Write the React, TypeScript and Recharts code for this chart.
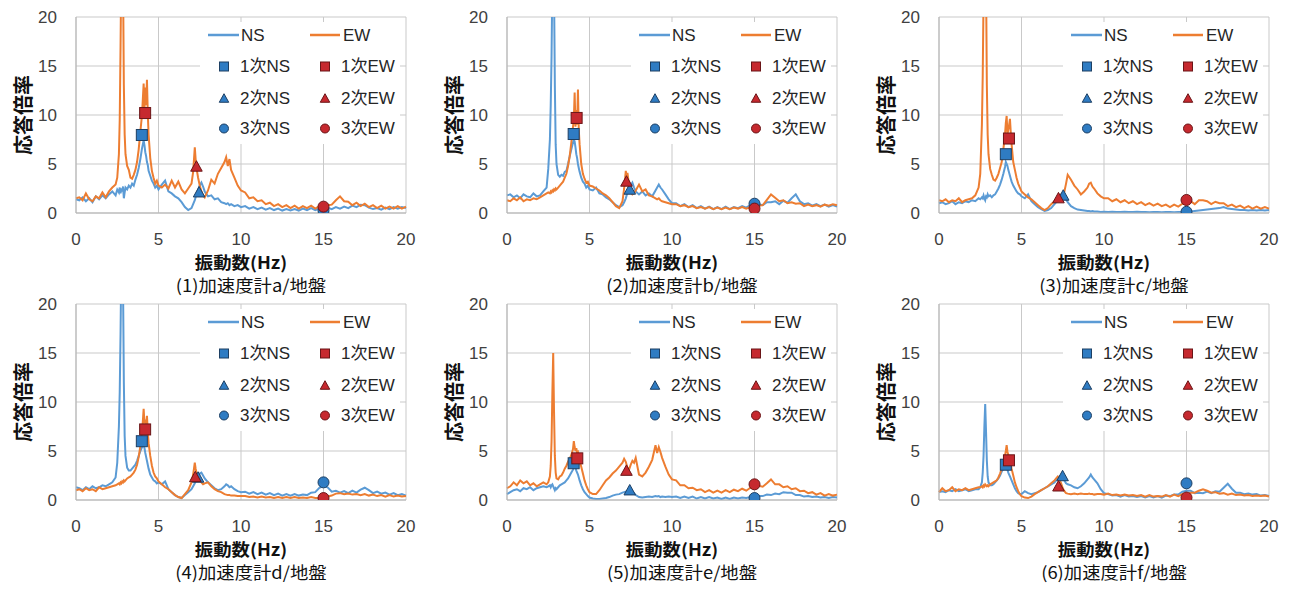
import React from 'react';
import { ComposedChart, Line, Scatter, XAxis, YAxis, CartesianGrid, Legend } from 'recharts';

// ---------- data ----------
const FREQ = [
  0, 0.2, 0.4, 0.6, 0.8, 1, 1.2, 1.4, 1.6, 1.8, 2, 2.2, 2.4,
  2.5, 2.6, 2.65, 2.7, 2.75, 2.8, 2.85, 2.9, 2.95, 3, 3.1, 3.2,
  3.3, 3.4, 3.5, 3.6, 3.7, 3.8, 3.9, 4, 4.05, 4.1, 4.15, 4.2, 4.25, 4.3, 4.35, 4.4, 4.5, 4.6, 4.7, 4.8, 4.9, 5,
  5.2, 5.4, 5.6, 5.8, 6, 6.2, 6.4, 6.6, 6.8, 7, 7.1, 7.2, 7.25, 7.3, 7.4, 7.5, 7.6, 7.7, 7.8, 8, 8.2, 8.4, 8.6, 8.8, 9, 9.1, 9.2, 9.3, 9.4, 9.6, 9.8, 10,
  10.25, 10.5, 10.75, 11, 11.25, 11.5, 11.75, 12, 12.25, 12.5, 12.75, 13, 13.25, 13.5, 13.75, 14, 14.25, 14.5, 14.75, 15,
  15.25, 15.5, 15.75, 16, 16.25, 16.5, 16.75, 17, 17.25, 17.5, 17.75, 18, 18.25, 18.5, 18.75, 19, 19.25, 19.5, 19.75, 20,
];

const NS_A = [
  1.4, 1.3, 1.6, 1.2, 1.5, 1.1, 1.7, 1.4, 1.8, 1.5, 1.9, 2.2, 1.8,
  2.4, 2.1, 2.6, 2.0, 2.5, 2.2, 2.7, 1.5, 2.1, 2.6, 2.4, 2.8,
  2.6, 3.0, 2.8, 3.4, 3.9, 4.6, 5.5, 6.6, 7.0, 7.4, 6.9, 6.2, 5.8, 5.2, 4.9, 4.3, 3.8, 3.3, 3.0, 2.6, 2.8, 2.4,
  2.9, 3.3, 2.2, 2.0, 1.7, 1.5, 1.1, 0.6, 0.3, 0.5, 0.9, 1.3, 1.6, 1.9, 2.4, 2.8, 3.1, 2.7, 2.2, 1.7, 1.8, 1.4, 1.5, 1.1, 1.0, 0.9, 1.0, 0.8, 0.9, 0.7, 0.8, 0.6,
  0.7, 0.45, 0.6, 0.4, 0.55, 0.35, 0.5, 0.3, 0.45, 0.25, 0.4, 0.25, 0.4, 0.25, 0.45, 0.3, 0.5, 0.3, 0.45, 0.35,
  0.55, 0.4, 0.6, 0.45, 0.65, 0.5, 0.75, 0.6, 0.85, 0.8, 0.55, 0.4, 0.5, 0.35, 0.55, 0.4, 0.6, 0.45, 0.6, 0.5,
];
const EW_A = [
  1.5, 1.6, 1.3, 2.0, 1.4, 1.2, 1.7, 1.5, 2.1, 1.6, 2.2, 2.6, 2.9,
  3.6, 6.0, 9.5, 17, 26, 30, 24, 13, 8, 6, 4.8, 4.4,
  3.6, 3.5, 3.9, 4.4, 5.2, 6.5, 8.3, 10.0, 11.6, 13.2, 10.6, 12.8, 11.0, 13.6, 10.2, 8.0, 5.6, 4.3, 3.6, 3.0, 3.3, 2.8,
  2.6, 2.9, 2.5, 3.3, 2.6, 3.2, 2.4, 2.0, 2.5, 3.0, 4.2, 6.7, 5.5, 4.6, 3.6, 2.8, 2.2, 1.8, 1.6, 2.3, 3.4, 3.0, 4.0, 4.6, 5.2, 5.7, 4.8, 5.5, 4.4, 3.6, 2.8, 2.3,
  2.1, 1.5, 1.6, 1.2, 1.3, 0.9, 1.05, 0.7, 0.9, 0.6, 0.8, 0.5, 0.75, 0.45, 0.7, 0.5, 0.75, 0.45, 0.7, 0.5,
  0.8, 0.85, 1.3, 1.7, 1.2, 1.15, 0.8, 1.05, 0.7, 0.95, 0.6, 0.8, 0.5, 0.75, 0.45, 0.65, 0.45, 0.7, 0.45, 0.65,
];

const NS_B = [
  1.8, 1.9, 1.6, 1.8, 1.5, 1.9, 1.7, 1.6, 2.0, 1.7, 1.8, 2.2, 2.6,
  4.5, 7.5, 11, 16, 24, 30, 23, 13, 7, 5, 3.9, 3.7,
  3.9, 3.8, 4.2, 4.3, 5.0, 5.8, 6.5, 7.2, 7.5, 7.3, 6.7, 6.0, 5.6, 5.0, 4.6, 4.2, 3.6, 3.2, 3.0, 2.6, 2.8, 2.4,
  2.3, 2.6, 2.0, 1.9, 1.6, 1.4, 1.1, 0.8, 0.6, 0.8, 1.1, 1.5, 1.8, 2.1, 2.5, 2.8, 3.1, 2.6, 2.2, 1.9, 2.2, 1.8, 2.0, 1.7, 2.3, 2.6, 2.9, 2.6, 2.4, 1.9, 1.4, 1.0,
  1.0, 0.7, 0.9, 0.6, 0.8, 0.5, 0.7, 0.45, 0.65, 0.4, 0.6, 0.4, 0.65, 0.4, 0.6, 0.5, 0.7, 0.55, 0.8, 0.7,
  0.9, 0.8, 1.1, 1.1, 1.2, 0.9, 1.25, 1.05, 1.5, 1.9, 1.2, 0.9, 1.0, 0.75, 0.9, 0.7, 0.85, 0.65, 0.8, 0.65,
];
const EW_B = [
  1.3, 1.2, 1.5, 1.3, 1.6, 1.2, 1.4, 1.3, 1.5, 1.4, 1.6, 1.8, 2.0,
  2.1, 2.0, 2.2, 2.1, 2.3, 2.2, 2.4, 2.3, 2.5, 2.4, 2.6, 2.8,
  3.0, 3.2, 3.6, 4.0, 4.8, 5.8, 7.2, 8.8, 9.5, 12.3, 8.8, 10.5, 9.0, 12.6, 8.5, 7.0, 5.0, 4.0, 3.5, 3.1, 3.2, 2.8,
  2.7, 2.5, 2.3, 2.0, 1.8, 1.5, 1.1, 0.7, 0.5, 1.2, 2.5, 4.3, 3.6, 4.1, 2.8, 2.1, 1.9, 2.0, 2.3, 2.9, 2.2, 2.4, 1.8, 1.7, 1.5, 1.4, 1.5, 1.3, 1.2, 1.1, 1.0, 0.9,
  0.9, 0.7, 0.8, 0.6, 0.7, 0.5, 0.6, 0.45, 0.6, 0.4, 0.55, 0.4, 0.55, 0.4, 0.55, 0.45, 0.6, 0.45, 0.6, 0.5,
  0.75, 0.8, 1.35, 1.9, 1.55, 1.2, 1.3, 1.0, 1.1, 0.95, 1.0, 0.7, 0.85, 0.7, 0.8, 0.65, 0.85, 0.75, 0.9, 0.8,
];

const NS_C = [
  1.0, 1.1, 0.9, 1.0, 1.2, 0.9, 1.1, 1.0, 1.2, 1.1, 1.3, 1.2, 1.5,
  1.4, 1.6, 1.5, 1.8, 1.5, 1.3, 1.7, 1.6, 1.9, 1.7, 1.8, 1.6,
  1.8, 1.9, 2.2, 2.5, 2.9, 3.4, 4.0, 4.7, 5.2, 5.0, 4.8, 4.4, 4.1, 3.8, 3.5, 3.2, 2.8, 2.5, 2.2, 2.0, 1.9, 1.7,
  1.5, 1.9, 1.2, 0.9, 0.6, 0.4, 0.2, 0.3, 0.5, 0.9, 1.1, 1.3, 1.4, 1.5, 1.7, 1.8, 1.7, 1.4, 1.1, 0.7, 0.5, 0.35, 0.3, 0.25, 0.2, 0.2, 0.15, 0.2, 0.15, 0.15, 0.1, 0.12,
  0.1, 0.12, 0.1, 0.1, 0.12, 0.1, 0.1, 0.12, 0.1, 0.1, 0.08, 0.1, 0.1, 0.08, 0.1, 0.1, 0.08, 0.1, 0.1, 0.12,
  0.15, 0.2, 0.25, 0.3, 0.35, 0.4, 0.45, 0.5, 0.6, 0.45, 0.4, 0.35, 0.3, 0.3, 0.25, 0.3, 0.25, 0.3, 0.25, 0.3,
];
const EW_C = [
  1.3, 1.2, 1.4, 1.1, 1.3, 1.2, 1.5, 1.1, 1.3, 1.4, 1.5, 1.8, 2.6,
  4.0, 9.0, 14, 22, 30, 32, 24, 13, 8, 6, 4.5, 3.9,
  3.4, 3.3, 3.6, 4.0, 4.6, 5.2, 6.5, 8.0, 9.2, 9.9, 8.0, 8.5, 9.0, 9.6, 8.2, 7.0, 5.2, 4.4, 3.6, 3.0, 2.6, 2.2,
  1.9, 1.6, 1.4, 1.1, 0.8, 0.5, 0.3, 0.5, 0.9, 1.2, 1.4, 1.6, 1.7, 1.8, 1.9, 1.8, 2.2, 3.0, 3.9, 3.4, 2.8, 2.4, 1.9, 2.2, 2.6, 3.0, 3.1, 2.7, 2.5, 2.0, 1.7, 1.5,
  1.5, 1.2, 1.4, 1.1, 1.3, 1.0, 1.2, 0.9, 1.1, 0.8, 1.0, 0.75, 0.95, 0.7, 0.85, 0.6, 0.85, 0.65, 0.95, 0.9,
  1.2, 0.9, 1.3, 1.3, 1.2, 0.9, 1.15, 1.0, 1.0, 0.7, 0.85, 0.6, 0.75, 0.5, 0.7, 0.45, 0.65, 0.45, 0.6, 0.45,
];

const NS_D = [
  1.3, 1.2, 1.0, 1.3, 1.1, 1.4, 1.2, 1.3, 1.5, 1.4, 1.6, 1.8, 2.3,
  3.8, 7.5, 11, 17, 25, 30, 22, 12, 6.5, 4.5, 3.3, 3.0,
  3.0, 3.2, 3.4, 3.6, 4.0, 4.5, 5.0, 5.4, 5.7, 5.6, 5.3, 4.8, 4.4, 4.0, 3.6, 3.2, 2.6, 2.3, 2.0, 1.9, 1.7, 1.8,
  1.6, 1.9, 1.1, 0.8, 0.5, 0.3, 0.2, 0.5, 0.8, 1.1, 1.4, 1.7, 1.9, 2.1, 2.4, 2.7, 2.8, 2.5, 2.2, 1.8, 1.5, 1.2, 1.0, 1.1, 1.4, 1.6, 1.5, 1.3, 1.4, 1.1, 0.9, 0.8,
  0.85, 0.65, 0.8, 0.6, 0.75, 0.55, 0.7, 0.5, 0.65, 0.45, 0.6, 0.45, 0.6, 0.45, 0.55, 0.5, 0.75, 0.8, 1.25, 1.45,
  1.3, 0.85, 0.95, 0.75, 0.9, 0.7, 0.95, 0.75, 1.05, 1.25, 1.0, 0.7, 0.85, 0.65, 0.75, 0.55, 0.7, 0.5, 0.6, 0.45,
];
const EW_D = [
  1.0, 1.1, 0.9, 1.2, 1.0, 1.1, 0.9, 1.3, 1.1, 1.2, 1.3, 1.4, 1.5,
  1.6, 1.7, 1.6, 1.8, 1.7, 1.9, 1.8, 2.0, 1.9, 2.0, 2.2, 2.3,
  2.4, 2.6, 2.8, 3.1, 3.6, 4.4, 5.5, 7.0, 8.0, 9.3, 7.8, 8.2, 7.5, 8.6, 7.0, 5.8, 4.5, 3.5, 2.8, 2.4, 2.2, 1.9,
  1.6, 1.3, 1.1, 0.8, 0.5, 0.3, 0.2, 0.6, 1.0, 1.8, 2.6, 3.8, 3.2, 2.8, 2.4, 2.1, 1.8, 1.6, 1.7, 1.8, 1.4, 1.1, 0.9, 0.8, 0.6, 0.55, 0.5, 0.5, 0.45, 0.45, 0.4, 0.4,
  0.4, 0.3, 0.35, 0.25, 0.35, 0.25, 0.3, 0.2, 0.3, 0.2, 0.3, 0.2, 0.3, 0.2, 0.25, 0.2, 0.3, 0.2, 0.2, 0.15,
  0.35, 0.45, 0.65, 0.7, 0.6, 0.65, 0.55, 0.6, 0.5, 0.6, 0.45, 0.55, 0.4, 0.5, 0.35, 0.5, 0.35, 0.45, 0.35, 0.4,
];

const NS_E = [
  0.6, 0.8, 1.0, 1.1, 0.9, 1.2, 1.1, 1.3, 1.0, 1.2, 1.3, 1.4, 1.3,
  1.4, 1.5, 1.3, 1.5, 1.6, 1.4, 1.2, 1.0, 1.2, 1.1, 1.3, 1.5,
  1.6, 1.7, 1.8, 2.0, 2.2, 2.5, 2.8, 3.1, 3.4, 3.5, 3.3, 3.0, 2.8, 2.6, 2.3, 2.0, 1.5, 1.1, 0.8, 0.6, 0.4, 0.25,
  0.15, 0.1, 0.1, 0.15, 0.2, 0.3, 0.45, 0.55, 0.6, 0.75, 0.8, 0.85, 0.8, 0.9, 0.95, 1.0, 0.85, 0.7, 0.5, 0.3, 0.25, 0.3, 0.35, 0.3, 0.4, 0.35, 0.4, 0.3, 0.35, 0.3, 0.35, 0.3,
  0.35, 0.2, 0.35, 0.2, 0.35, 0.15, 0.3, 0.15, 0.3, 0.15, 0.25, 0.1, 0.25, 0.1, 0.25, 0.15, 0.25, 0.2, 0.3, 0.25,
  0.4, 0.4, 0.55, 0.5, 0.65, 0.6, 0.8, 0.75, 0.75, 0.5, 0.5, 0.35, 0.4, 0.3, 0.35, 0.25, 0.3, 0.2, 0.3, 0.25,
];
const EW_E = [
  1.2, 1.4, 1.8, 1.5, 2.0, 1.7, 1.9, 1.5, 1.7, 1.4, 1.6, 1.8, 1.6,
  1.8, 2.4, 3.5, 6, 11, 15, 9, 4.5, 2.8, 2.2, 2.1, 2.4,
  2.5, 2.8, 3.2, 3.5, 3.9, 4.2, 4.6, 5.2, 6.0, 5.4, 5.0, 5.3, 4.8, 4.9, 4.4, 4.0, 3.4, 2.7, 2.0, 1.5, 1.1, 0.8,
  0.6, 0.6, 1.0, 1.5, 2.0, 2.3, 2.7, 3.0, 3.4, 3.8, 4.2, 3.9, 3.6, 3.3, 3.1, 3.6, 4.0, 3.8, 4.3, 2.6, 2.4, 2.8, 3.4, 4.1, 5.6, 4.8, 5.4, 4.9, 4.3, 3.4, 2.6, 2.1,
  2.0, 1.5, 1.5, 1.2, 1.25, 1.0, 1.1, 0.8, 1.0, 0.75, 0.95, 0.75, 1.0, 0.8, 1.05, 0.9, 1.15, 0.95, 1.25, 1.2,
  1.45, 1.35, 1.7, 2.1, 1.6, 1.6, 1.3, 1.4, 1.1, 1.2, 0.9, 0.95, 0.7, 0.8, 0.55, 0.7, 0.45, 0.6, 0.45, 0.55,
];

const NS_F = [
  0.8, 0.9, 0.8, 1.0, 0.9, 1.1, 0.9, 1.0, 1.1, 0.9, 1.0, 1.1, 1.1,
  1.3, 1.8, 2.8, 4.5, 7.5, 9.8, 7.0, 4.0, 2.4, 1.8, 1.5, 1.5,
  1.6, 1.8, 2.0, 2.2, 2.5, 2.9, 3.2, 3.4, 3.5, 3.3, 3.1, 2.8, 2.6, 2.4, 2.2, 2.0, 1.6, 1.2, 0.9, 0.7, 0.6, 0.6,
  0.9, 0.7, 0.6, 0.7, 0.8, 1.0, 1.2, 1.4, 1.6, 1.8, 2.0, 2.2, 2.3, 2.4, 2.4, 2.3, 2.0, 1.7, 1.6, 1.5, 1.3, 1.2, 1.4, 1.7, 2.1, 2.3, 2.6, 2.3, 2.1, 1.7, 1.1, 0.7,
  0.6, 0.45, 0.5, 0.35, 0.5, 0.35, 0.4, 0.3, 0.4, 0.25, 0.4, 0.25, 0.4, 0.25, 0.45, 0.4, 0.55, 0.55, 0.85, 0.95,
  0.95, 0.7, 0.75, 0.7, 0.85, 0.7, 0.9, 0.85, 1.25, 1.65, 1.15, 0.75, 0.75, 0.6, 0.65, 0.55, 0.6, 0.45, 0.5, 0.4,
];
const EW_F = [
  0.8, 1.2, 0.9, 1.0, 1.3, 0.9, 1.1, 1.0, 1.2, 1.0, 1.1, 1.2, 1.3,
  1.3, 1.4, 1.3, 1.5, 1.4, 1.6, 1.5, 1.4, 1.5, 1.4, 1.6, 1.7,
  1.8, 1.9, 2.0, 2.3, 2.7, 3.2, 3.8, 4.5, 5.0, 5.6, 4.9, 4.6, 4.2, 4.0, 3.6, 3.2, 2.5, 1.8, 1.3, 0.9, 0.6, 0.4,
  0.25, 0.2, 0.35, 0.6, 0.8, 1.0, 1.2, 1.4, 1.7, 2.0, 2.2, 2.4, 2.3, 2.1, 1.7, 1.2, 0.9, 0.7, 0.65, 0.6, 0.65, 0.6, 0.65, 0.6, 0.6, 0.65, 0.6, 0.6, 0.55, 0.6, 0.6, 0.55,
  0.65, 0.5, 0.55, 0.45, 0.55, 0.45, 0.5, 0.4, 0.5, 0.35, 0.5, 0.35, 0.4, 0.35, 0.5, 0.35, 0.55, 0.4, 0.6, 0.55,
  0.75, 0.75, 0.95, 1.1, 0.95, 0.75, 0.8, 0.65, 0.7, 0.55, 0.65, 0.5, 0.55, 0.45, 0.5, 0.4, 0.45, 0.4, 0.45, 0.35,
];

// mode points [frequency, value] for 1st, 2nd, 3rd modes
const MODES_NS_A = [[3.99, 7.96], [7.46, 2.17], [15, 0.24]];
const MODES_EW_A = [[4.19, 10.2], [7.3, 4.8], [15, 0.65]];
const MODES_NS_B = [[4.04, 8.06], [7.44, 2.45], [15, 0.95]];
const MODES_EW_B = [[4.22, 9.7], [7.24, 3.27], [15, 0.45]];
const MODES_NS_C = [[4.05, 6.0], [7.53, 1.84], [15, 0.12]];
const MODES_EW_C = [[4.24, 7.6], [7.24, 1.57], [15, 1.33]];
const MODES_NS_D = [[3.99, 6.0], [7.4, 2.35], [15, 1.8]];
const MODES_EW_D = [[4.19, 7.2], [7.23, 2.4], [15, 0.2]];
const MODES_NS_E = [[4.04, 3.75], [7.44, 1.05], [15, 0.2]];
const MODES_EW_E = [[4.26, 4.25], [7.24, 3.05], [15, 1.6]];
const MODES_NS_F = [[4.05, 3.6], [7.49, 2.5], [15, 1.7]];
const MODES_EW_F = [[4.24, 4.05], [7.24, 1.45], [15, 0.25]];

const TITLES = ['(1)加速度計a/地盤', '(2)加速度計b/地盤', '(3)加速度計c/地盤', '(4)加速度計d/地盤', '(5)加速度計e/地盤', '(6)加速度計f/地盤'];
const X_TICKS = [0, 5, 10, 15, 20];
const Y_TICKS = [0, 5, 10, 15, 20];
const X_TITLE = '振動数(Hz)';
const Y_TITLE = '応答倍率';
const MODE_LABELS = ['1次', '2次', '3次'];

const PANELS = [
  { ns: NS_A, ew: EW_A, mNs: MODES_NS_A, mEw: MODES_EW_A },
  { ns: NS_B, ew: EW_B, mNs: MODES_NS_B, mEw: MODES_EW_B },
  { ns: NS_C, ew: EW_C, mNs: MODES_NS_C, mEw: MODES_EW_C },
  { ns: NS_D, ew: EW_D, mNs: MODES_NS_D, mEw: MODES_EW_D },
  { ns: NS_E, ew: EW_E, mNs: MODES_NS_E, mEw: MODES_EW_E },
  { ns: NS_F, ew: EW_F, mNs: MODES_NS_F, mEw: MODES_EW_F },
];

// ---------- layout / style ----------
const PLOT_LEFTS = [76, 507, 939];
const PLOT_TOPS = [17, 304];
const PLOT_W = 330;
const PLOT_H = 196;
const M_LEFT = 16;
const Y_W = 60;
const M_TOP = 17;
const X_H = 30;
const CHART_W = 430;
const CHART_H = 293;

const NS_COLOR = '#5b9bd5';
const EW_COLOR = '#ed7d31';
const NS_MARK = { fill: '#2f7cc3', stroke: '#1d3f63' };
const EW_MARK = { fill: '#c6292f', stroke: '#6a1517' };
const LATIN = "'Liberation Sans', Arial, 'Noto Sans CJK JP', sans-serif";
const CJK = "'Noto Sans CJK JP', 'Liberation Sans', sans-serif";
const KINDS = ['square', 'triangle', 'circle'];
const GRID = '#c9c9c9';

function drawMarker(kind: string, cx: number, cy: number, size: number, c: { fill: string; stroke: string }) {
  if (kind === 'square') {
    return <rect x={cx - size / 2} y={cy - size / 2} width={size} height={size} fill={c.fill} stroke={c.stroke} strokeWidth={1} />;
  }
  if (kind === 'triangle') {
    const w = size * 1.05;
    const h = size * 0.95;
    return (
      <polygon
        points={`${cx},${cy - h / 2} ${cx - w / 2},${cy + h / 2} ${cx + w / 2},${cy + h / 2}`}
        fill={c.fill}
        stroke={c.stroke}
        strokeWidth={1}
      />
    );
  }
  return <circle cx={cx} cy={cy} r={size / 2} fill={c.fill} stroke={c.stroke} strokeWidth={1} />;
}

function makeShape(kind: string, c: { fill: string; stroke: string }) {
  return (props: any) => {
    const { cx, cy } = props;
    if (cx == null || cy == null) return <g />;
    return drawMarker(kind, cx, cy, 11, c);
  };
}

function LegendBox() {
  const rows = [13, 44.5, 76, 106.5];
  const txt = { fontFamily: LATIN, fontSize: 17, fill: '#262626' } as any;
  return (
    <div style={{ width: 200, height: 122, background: '#ffffff' }}>
      <svg width={200} height={122} style={{ display: 'block' }}>
        <line x1={8} x2={39} y1={rows[0]} y2={rows[0]} stroke={NS_COLOR} strokeWidth={2.5} />
        <text x={41} y={rows[0]} dominantBaseline="central" {...txt}>NS</text>
        <line x1={110} x2={140} y1={rows[0]} y2={rows[0]} stroke={EW_COLOR} strokeWidth={2.5} />
        <text x={143} y={rows[0]} dominantBaseline="central" {...txt}>EW</text>
        {MODE_LABELS.map((m, k) => (
          <g key={m}>
            {drawMarker(KINDS[k], 24, rows[k + 1], 9, NS_MARK)}
            <text x={40} y={rows[k + 1]} dominantBaseline="central" {...txt}>{m + 'NS'}</text>
            {drawMarker(KINDS[k], 125, rows[k + 1], 9, EW_MARK)}
            <text x={141} y={rows[k + 1]} dominantBaseline="central" {...txt}>{m + 'EW'}</text>
          </g>
        ))}
      </svg>
    </div>
  );
}

function Panel({ idx }: { idx: number }) {
  const p = PANELS[idx];
  const plotLeft = PLOT_LEFTS[idx % 3];
  const plotTop = PLOT_TOPS[Math.floor(idx / 3)];
  const left = plotLeft - M_LEFT - Y_W;
  const top = plotTop - M_TOP;
  const data = FREQ.map((f, i) => ({ f, ns: p.ns[i], ew: p.ew[i] }));
  const tickStyle = { fontSize: 17, fill: '#404040', fontFamily: LATIN };
  const titleBase: React.CSSProperties = {
    position: 'absolute',
    whiteSpace: 'nowrap',
    lineHeight: 1,
    color: '#111',
    fontFamily: CJK,
  };
  return (
    <div style={{ position: 'absolute', left, top, width: CHART_W, height: CHART_H }}>
      <ComposedChart
        width={CHART_W}
        height={CHART_H}
        data={data}
        margin={{ top: M_TOP, left: M_LEFT, right: CHART_W - M_LEFT - Y_W - PLOT_W, bottom: CHART_H - M_TOP - PLOT_H - X_H }}
      >
        <CartesianGrid stroke={GRID} strokeWidth={1} />
        <XAxis
          type="number"
          dataKey="f"
          domain={[0, 20]}
          ticks={X_TICKS}
          interval={0}
          tickLine={false}
          tickSize={0}
          tickMargin={20}
          height={X_H}
          axisLine={{ stroke: '#b4b4b4' }}
          tick={tickStyle}
        />
        <YAxis
          type="number"
          domain={[0, 20]}
          allowDataOverflow
          ticks={Y_TICKS}
          interval={0}
          tickLine={false}
          tickSize={0}
          tickMargin={19}
          width={Y_W}
          axisLine={{ stroke: '#b4b4b4' }}
          tick={tickStyle}
        />
        <Line type="linear" dataKey="ns" stroke={NS_COLOR} strokeWidth={2} dot={false} activeDot={false} isAnimationActive={false} />
        <Line type="linear" dataKey="ew" stroke={EW_COLOR} strokeWidth={2} dot={false} activeDot={false} isAnimationActive={false} />
        {KINDS.map((kind, k) => (
          <Scatter
            key={'ns' + kind}
            data={[{ f: p.mNs[k][0], v: p.mNs[k][1] }]}
            dataKey="v"
            shape={makeShape(kind, NS_MARK)}
            isAnimationActive={false}
          />
        ))}
        {KINDS.map((kind, k) => (
          <Scatter
            key={'ew' + kind}
            data={[{ f: p.mEw[k][0], v: p.mEw[k][1] }]}
            dataKey="v"
            shape={makeShape(kind, EW_MARK)}
            isAnimationActive={false}
          />
        ))}
        <Legend
          layout="horizontal"
          verticalAlign="middle"
          align="center"
          content={() => <LegendBox />}
          wrapperStyle={{ position: 'absolute', left: M_LEFT + Y_W + 124, top: M_TOP + 5, width: 200, height: 122 }}
        />
      </ComposedChart>
      <div
        style={{
          ...titleBase,
          left: M_LEFT + Y_W - 53.5,
          top: M_TOP + 98,
          fontSize: 20,
          fontWeight: 700,
          transform: 'translate(-50%, -50%) rotate(-90deg)',
        }}
      >
        {Y_TITLE}
      </div>
      <div
        style={{
          ...titleBase,
          left: M_LEFT + Y_W + 165,
          top: M_TOP + 243.5,
          fontSize: 17,
          fontWeight: 700,
          transform: 'translate(-50%, -50%) scaleX(1.08)',
        }}
      >
        {X_TITLE}
      </div>
      <div
        style={{
          ...titleBase,
          left: M_LEFT + Y_W + 175,
          top: M_TOP + 267,
          fontSize: 17,
          transform: 'translate(-50%, -50%) scaleX(1.08)',
        }}
      >
        {TITLES[idx]}
      </div>
    </div>
  );
}

export default function App() {
  return (
    <div style={{ position: 'absolute', left: 0, top: 0, width: 1291, height: 589, background: '#fff', overflow: 'hidden' }}>
      {PANELS.map((_, i) => (
        <Panel key={i} idx={i} />
      ))}
    </div>
  );
}
